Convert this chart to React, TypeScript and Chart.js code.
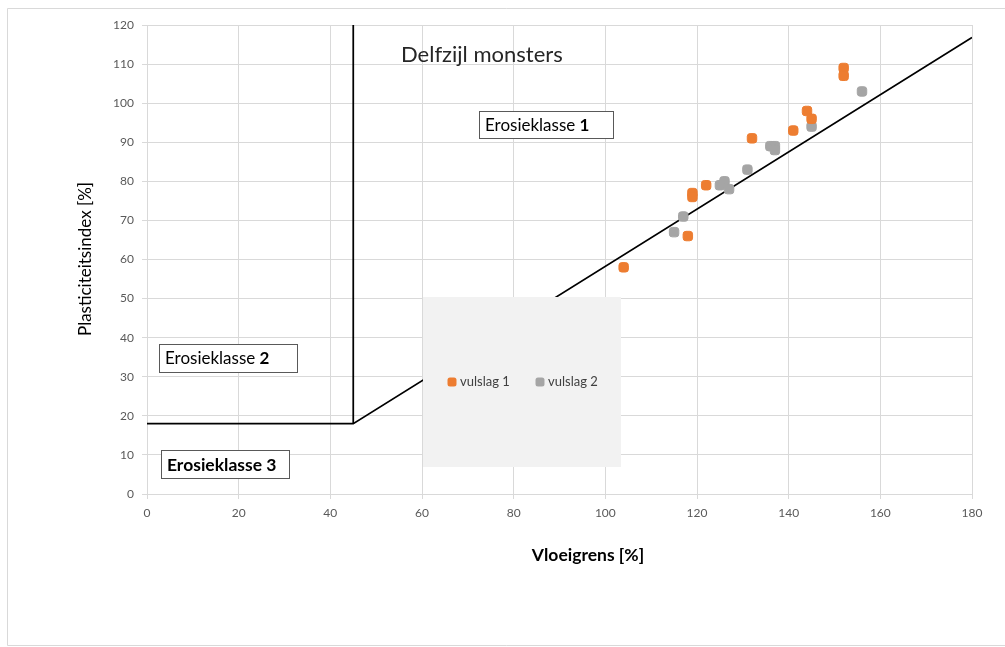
import React, { useEffect, useRef } from "react";
import { Chart, registerables } from "chart.js";

Chart.register(...registerables);

// ---- data ----
const vulslag1X = [152, 152, 144, 145, 141, 132, 122, 119, 119, 118, 104];
const vulslag1Y = [109, 107, 98, 96, 93, 91, 79, 77, 76, 66, 58];
const vulslag2X = [156, 145, 136, 137, 137, 131, 126, 125, 127, 117, 115];
const vulslag2Y = [103, 94, 89, 89, 88, 83, 80, 79, 78, 71, 67];
const aLineX = [0, 45, 180];
const aLineY = [18, 18, 116.8];
const verticalX = [45, 45];
const verticalY = [18, 120];
const seriesLabels = ["vulslag 1", "vulslag 2"];
const xTicks = [0, 20, 40, 60, 80, 100, 120, 140, 160, 180];
const yTicks = [0, 10, 20, 30, 40, 50, 60, 70, 80, 90, 100, 110, 120];
const chartTitle = "Delfzijl monsters";
const xTitle = "Vloeigrens [%]";
const yTitle = "Plasticiteitsindex [%]";
const classLabels = ["Erosieklasse ", "1", "2", "3"];

const FONT = "Lato, 'Open Sans', sans-serif";
const ORANGE = "#ED7D31";
const GRAY = "#A5A5A5";

const zip = (xs: number[], ys: number[]) => xs.map((x, i) => ({ x, y: ys[i] }));

const overlayPlugin = {
  id: "overlay",
  beforeDraw(chart: any) {
    const { ctx, width, height } = chart;
    ctx.save();
    ctx.fillStyle = "#ffffff";
    ctx.fillRect(0, 0, width, height);
    ctx.strokeStyle = "#d9d9d9";
    ctx.lineWidth = 1;
    ctx.beginPath();
    ctx.moveTo(1010, 8.5);
    ctx.lineTo(7.5, 8.5);
    ctx.lineTo(7.5, 645.5);
    ctx.lineTo(1010, 645.5);
    ctx.stroke();
    ctx.restore();
  },
  afterDraw(chart: any) {
    const { ctx } = chart;
    ctx.save();
    // chart title
    ctx.fillStyle = "#262626";
    ctx.font = `22px ${FONT}`;
    ctx.textBaseline = "middle";
    ctx.textAlign = "left";
    ctx.fillText(chartTitle, 401, 55);

    // class boxes
    const box = (x: number, y: number, w: number, h: number, num: string, allBold: boolean) => {
      ctx.fillStyle = "#ffffff";
      ctx.fillRect(x, y, w, h);
      ctx.strokeStyle = "#595959";
      ctx.lineWidth = 1;
      ctx.strokeRect(x + 0.5, y + 0.5, w, h);
      ctx.fillStyle = "#000000";
      ctx.textBaseline = "middle";
      ctx.textAlign = "left";
      const size = allBold ? 17.5 : 17;
      ctx.font = `${allBold ? "bold " : ""}${size}px ${FONT}`;
      const t = classLabels[0];
      ctx.fillText(t, x + 6, y + h / 2 + 1);
      const tw = ctx.measureText(t).width;
      ctx.font = `bold ${size}px ${FONT}`;
      ctx.fillText(num, x + 6 + tw, y + h / 2 + 1);
    };
    box(479, 111, 134, 27, classLabels[1], false);
    box(159, 344, 138, 28, classLabels[2], false);
    box(161, 450, 128, 28, classLabels[3], true);

    // legend
    ctx.fillStyle = "#f2f2f2";
    ctx.fillRect(423, 297, 198, 170);
    const items = chart.data.datasets.filter((d: any) => seriesLabels.includes(d.label));
    const starts = [452, 540];
    items.forEach((d: any, i: number) => {
      const cx = starts[i];
      const cy = 382;
      ctx.fillStyle = d.backgroundColor;
      ctx.beginPath();
      (ctx as any).roundRect(cx - 4.5, cy - 4.5, 9, 9, 2.5);
      ctx.fill();
      ctx.fillStyle = "#404040";
      ctx.font = `13px ${FONT}`;
      ctx.textBaseline = "middle";
      ctx.fillText(d.label, cx + 8, cy);
    });

    // axis titles
    ctx.fillStyle = "#000000";
    ctx.font = `bold 17.5px ${FONT}`;
    ctx.textAlign = "center";
    ctx.fillText(xTitle, 588, 555);
    ctx.save();
    ctx.translate(86, 259);
    ctx.rotate(-Math.PI / 2);
    ctx.font = `17px ${FONT}`;
    ctx.fillText(yTitle, 0, 0);
    ctx.restore();
    ctx.restore();
  },
};

export default function App() {
  const ref = useRef<HTMLCanvasElement | null>(null);
  useEffect(() => {
    if (!ref.current) return;
    const chart = new Chart(ref.current, {
      type: "scatter",
      data: {
        datasets: [
          {
            label: seriesLabels[0],
            data: zip(vulslag1X, vulslag1Y),
            backgroundColor: ORANGE,
            borderColor: ORANGE,
            pointStyle: "rectRounded",
            pointRadius: 5.5,
            pointHoverRadius: 5.5,
            order: 1,
          },
          {
            label: seriesLabels[1],
            data: zip(vulslag2X, vulslag2Y),
            backgroundColor: GRAY,
            borderColor: GRAY,
            pointStyle: "rectRounded",
            pointRadius: 5.5,
            pointHoverRadius: 5.5,
            order: 2,
          },
          {
            label: "grens",
            data: zip(aLineX, aLineY),
            showLine: true,
            borderColor: "#000000",
            borderWidth: 1.75,
            pointRadius: 0,
            order: 3,
          },
          {
            label: "grens verticaal",
            data: zip(verticalX, verticalY),
            showLine: true,
            borderColor: "#000000",
            borderWidth: 1.75,
            pointRadius: 0,
            order: 3,
          },
        ],
      },
      options: {
        animation: false,
        responsive: false,
        layout: { padding: { left: 0, right: 33, top: 25, bottom: 0 } },
        plugins: { legend: { display: false }, tooltip: { enabled: false } },
        scales: {
          x: {
            type: "linear",
            min: 0,
            max: 180,
            afterBuildTicks: (s: any) => {
              s.ticks = xTicks.map((v) => ({ value: v }));
            },
            afterFit: (s: any) => {
              s.height = 153;
            },
            ticks: { font: { family: FONT, size: 12 }, color: "#595959", padding: 7 },
            grid: { color: "#d9d9d9", tickLength: 5 },
            border: { color: "#d9d9d9" },
          },
          y: {
            type: "linear",
            min: 0,
            max: 120,
            afterBuildTicks: (s: any) => {
              s.ticks = yTicks.map((v) => ({ value: v }));
            },
            afterFit: (s: any) => {
              s.width = 147;
            },
            ticks: { font: { family: FONT, size: 12 }, color: "#595959", padding: 8 },
            grid: { color: "#d9d9d9", tickLength: 5 },
            border: { color: "#d9d9d9" },
          },
        },
      },
      plugins: [overlayPlugin],
    } as any);
    return () => chart.destroy();
  }, []);
  return (
    <div style={{ position: "absolute", left: 0, top: 0, width: 1005, height: 647, background: "#fff" }}>
      <canvas ref={ref} width={1005} height={647} style={{ display: "block" }} />
    </div>
  );
}
